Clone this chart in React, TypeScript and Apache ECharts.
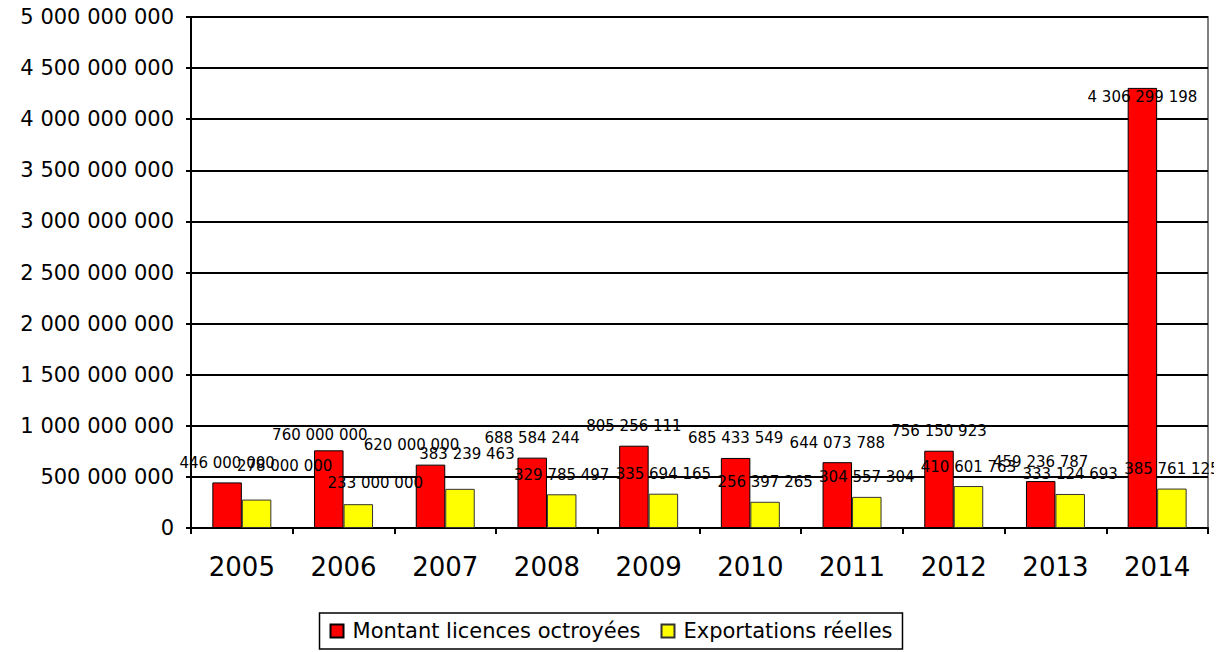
import React, { useEffect, useRef } from "react";
import * as echarts from "echarts";

const years = ["2005", "2006", "2007", "2008", "2009", "2010", "2011", "2012", "2013", "2014"];
const licences = [446000000, 760000000, 620000000, 688584244, 805256111, 685433549, 644073788, 756150923, 459236787, 4306299198];
const exportations = [278000000, 233000000, 383239463, 329785497, 335694165, 256397265, 304557304, 410601763, 333124693, 385761125];
const seriesNames = ["Montant licences octroyées", "Exportations réelles"];

// Hand-moved data labels in the reference (label offsets in px, per bar index)
const licencesLabelNudge: Record<number, [number, number]> = { 1: [-9, 4], 2: [-19, 0], 9: [0, 29] };
const exportationsLabelNudge: Record<number, [number, number]> = { 0: [28, -14], 1: [17, -2], 2: [7, -15] };

const fmt = (v: number) => String(Math.round(v)).replace(/\B(?=(\d{3})+(?!\d))/g, " ");

export default function App() {
  const ref = useRef<HTMLDivElement>(null);
  useEffect(() => {
    const chart = echarts.init(ref.current!, null, { renderer: "svg" });
    const font = "'DejaVu Sans', Verdana, sans-serif";
    const withNudge = (values: number[], nudge: Record<number, [number, number]>) =>
      values.map((v, i) => (nudge[i] ? { value: v, label: { offset: nudge[i] } } : v));
    const labelBase = {
      show: true,
      position: "top",
      distance: 12,
      fontSize: 15,
      color: "#000",
      fontFamily: font,
      formatter: (p: any) => fmt(p.value),
    };
    chart.setOption({
      animation: false,
      textStyle: { fontFamily: font, color: "#000" },
      grid: {
        left: 191,
        right: 14,
        top: 17,
        bottom: 124,
        show: true,
        borderColor: "#808080",
        borderWidth: 2,
      },
      legend: {
        top: 613,
        left: "center",
        itemWidth: 13,
        itemHeight: 13,
        itemGap: 20,
        padding: [5, 10, 5, 10],
        borderColor: "#000",
        borderWidth: 1.5,
        textStyle: { fontSize: 21, lineHeight: 26, color: "#000", fontFamily: font, padding: [0, 0, 0, 4] },
        icon: "rect",
        data: seriesNames,
      },
      xAxis: {
        type: "category",
        data: years,
        axisLine: { lineStyle: { color: "#000", width: 2 } },
        axisTick: { show: true, length: 6, lineStyle: { color: "#000", width: 2 } },
        axisLabel: { fontSize: 26, color: "#000", margin: 26, fontFamily: font },
      },
      yAxis: {
        type: "value",
        min: 0,
        max: 5000000000,
        interval: 500000000,
        axisLine: { show: true, lineStyle: { color: "#000", width: 2 } },
        axisTick: { show: true, length: 5, lineStyle: { color: "#000", width: 2 } },
        splitLine: { show: true, lineStyle: { color: "#000", width: 2 } },
        axisLabel: { fontSize: 21, color: "#000", margin: 17, fontFamily: font, formatter: (v: number) => fmt(v) },
      },
      series: [
        {
          name: seriesNames[0],
          type: "bar",
          data: withNudge(licences, licencesLabelNudge),
          barGap: "0%",
          barCategoryGap: "42%",
          itemStyle: { color: "#FF0000", borderColor: "#000", borderWidth: 1 },
          label: labelBase,
        },
        {
          name: seriesNames[1],
          type: "bar",
          data: withNudge(exportations, exportationsLabelNudge),
          barGap: "0%",
          barCategoryGap: "42%",
          itemStyle: { color: "#FFFF00", borderColor: "#333", borderWidth: 1 },
          label: labelBase,
        },
      ],
    });
    return () => chart.dispose();
  }, []);
  return <div ref={ref} style={{ width: 1222, height: 652, marginTop: -8, marginLeft: -8 }} />;
}
